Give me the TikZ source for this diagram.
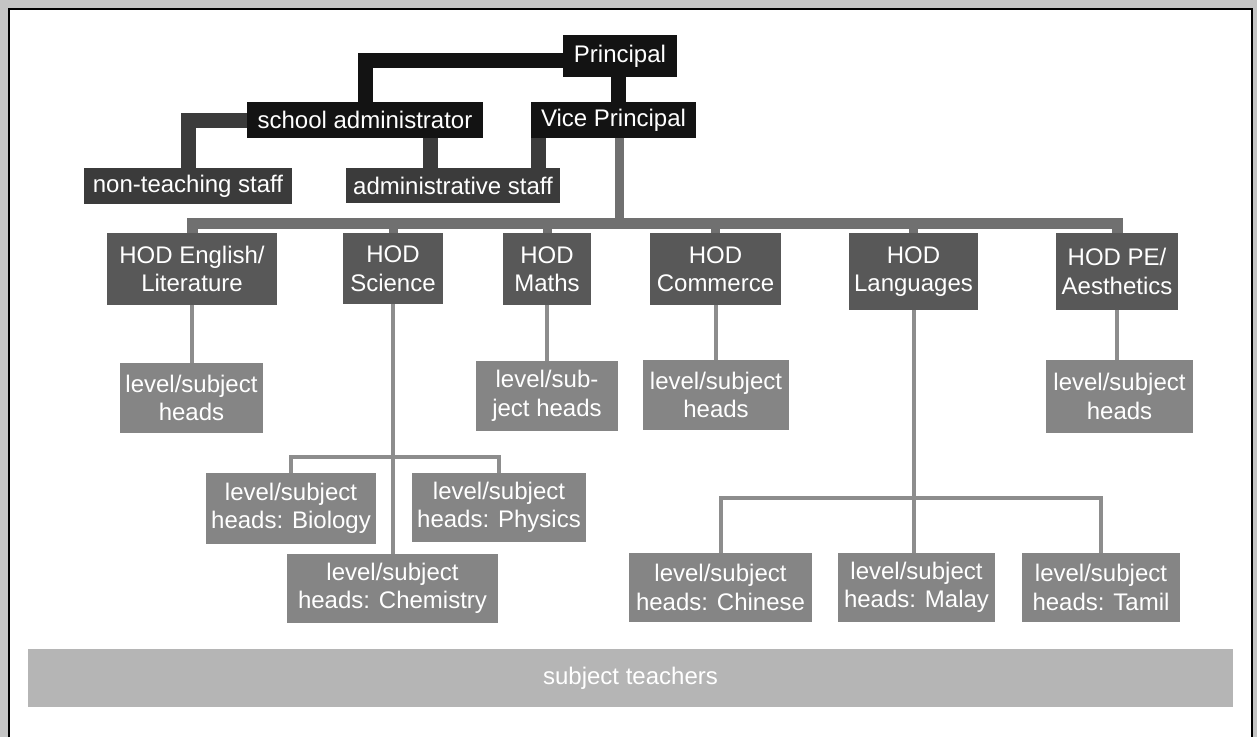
\documentclass[tikz,border=0pt]{standalone}
\usepackage{fontspec}
\setmainfont{Liberation Sans}
\definecolor{framegray}{HTML}{C4C4C4}
\definecolor{topblack}{HTML}{131313}
\definecolor{staffgray}{HTML}{3B3B3B}
\definecolor{hodgray}{HTML}{585858}
\definecolor{headgray}{HTML}{858585}
\definecolor{busgray}{HTML}{707070}
\definecolor{linegray}{HTML}{8D8D8D}
\definecolor{teachgray}{HTML}{B5B5B5}
\begin{document}
\begin{tikzpicture}[x=1pt,y=-1pt,
  box/.style={rectangle, inner sep=0pt, align=center, text=white,
    font=\fontsize{24}{28.5}\selectfont},
  sz/.style 2 args={minimum width=#1pt, minimum height=#2pt},
  topbox/.style={box, fill=topblack},
  staffbox/.style={box, fill=staffgray},
  hodbox/.style={box, fill=hodgray},
  headbox/.style={box, fill=headgray},
  teachbox/.style={box, fill=teachgray},
  toplink/.style={draw=topblack, line width=15pt},
  stafflink/.style={draw=staffgray, line width=15pt},
  busline/.style={draw=busgray},
  headlink/.style={draw=linegray, line width=4pt}]

% page background and panel frame
\useasboundingbox (0,0) rectangle (1257,737);
\fill[framegray] (0,0) rectangle (1257,737);
\fill[white] (9,9) rectangle (1252,737);
\draw[black, line width=2pt] (9,737) -- (9,9) -- (1252,9) -- (1252,737);

% management
\node[topbox, sz={114}{42}] (principal) at (620,56) {Principal};
\node[topbox, sz={236}{36}] (schooladmin) at (365,120) {school administrator};
\node[topbox, sz={165}{36}] (vp) at (613.5,120) {Vice Principal};
\node[staffbox, sz={208}{36}] (nonteach) at (188,186) {non-teaching staff};
\node[staffbox, sz={214}{35}] (adminstaff) at (453,185.5) {administrative staff};

% heads of department
\node[hodbox, sz={170}{72}] (hodEng) at (192,269) {HOD English/\\Literature};
\node[hodbox, sz={100}{71}] (hodSci) at (393,268.5) {HOD\\Science};
\node[hodbox, sz={88}{72}] (hodMath) at (547,269) {HOD\\Maths};
\node[hodbox, sz={131}{72}] (hodCom) at (715.5,269) {HOD\\Commerce};
\node[hodbox, sz={129}{77}] (hodLang) at (913.5,271.5) {HOD\\Languages};
\node[hodbox, sz={122}{77}] (hodPE) at (1117,271.5) {HOD PE/\\Aesthetics};

% level/subject heads
\node[headbox, sz={143}{70}] (lsEng) at (191.5,398) {level/subject\\heads};
\node[headbox, sz={142}{70}] (lsMath) at (547,396) {level/sub-\\ject heads};
\node[headbox, sz={146}{70}] (lsCom) at (716,395) {level/subject\\heads};
\node[headbox, sz={147}{73}] (lsPE) at (1119.5,396.5) {level/subject\\heads};

\node[headbox, sz={170}{71}] (bio) at (291,508.5) {level/subject\\heads: Biology};
\node[headbox, sz={174}{69}] (phys) at (499,507.5) {level/subject\\heads: Physics};
\node[headbox, sz={211}{69}] (chem) at (392.5,588.5) {level/subject\\heads: Chemistry};

\node[headbox, sz={183}{69}] (chin) at (720.5,587.5) {level/subject\\heads: Chinese};
\node[headbox, sz={157}{69}] (malay) at (916.5,587.5) {level/subject\\heads: Malay};
\node[headbox, sz={158}{69}] (tamil) at (1101,587.5) {level/subject\\heads: Tamil};

% teachers
\node[teachbox, sz={1205}{58}] (teachers) at (630.5,678) {subject teachers};

% management links
\draw[toplink] ([yshift=-4.5pt]principal.west) -| (schooladmin.north);
\draw[toplink] ([xshift=-2pt]principal.south) -- ([xshift=4.5pt]vp.north);
\draw[stafflink] (schooladmin.west) -| (nonteach.north);
\draw[stafflink] ([xshift=65pt]schooladmin.south) -- ([xshift=-23pt]adminstaff.north);
\draw[stafflink] ([xshift=-75pt]vp.south) -- ([xshift=85.5pt]adminstaff.north);

% bus from the vice principal to the heads of department
\coordinate (bus) at (619,223);
\draw[busline, line width=9pt] ([xshift=5.5pt]vp.south) -- (bus);
\draw[busline, line width=11pt] (hodEng.north) |- (bus) -| (hodPE.north);
\foreach \h in {hodSci,hodMath,hodCom,hodLang}
  \draw[busline, line width=9pt] (bus -| \h.north) -- (\h.north);

% department links
\draw[headlink] (hodEng.south) -- (hodEng.south |- lsEng.north);
\draw[headlink] (hodMath.south) -- (hodMath.south |- lsMath.north);
\draw[headlink] (hodCom.south) -- (hodCom.south |- lsCom.north);
\draw[headlink] (hodPE.south) -- (hodPE.south |- lsPE.north);

\coordinate (scibus) at (393,457);
\draw[headlink] (hodSci.south) -- (hodSci.south |- chem.north);
\draw[headlink] (bio.north) |- (scibus) -| (phys.north);

\coordinate (langbus) at (913.5,498);
\draw[headlink] (hodLang.south) -- (hodLang.south |- malay.north);
\draw[headlink] (chin.north) |- (langbus) -| (tamil.north);
\end{tikzpicture}
\end{document}
